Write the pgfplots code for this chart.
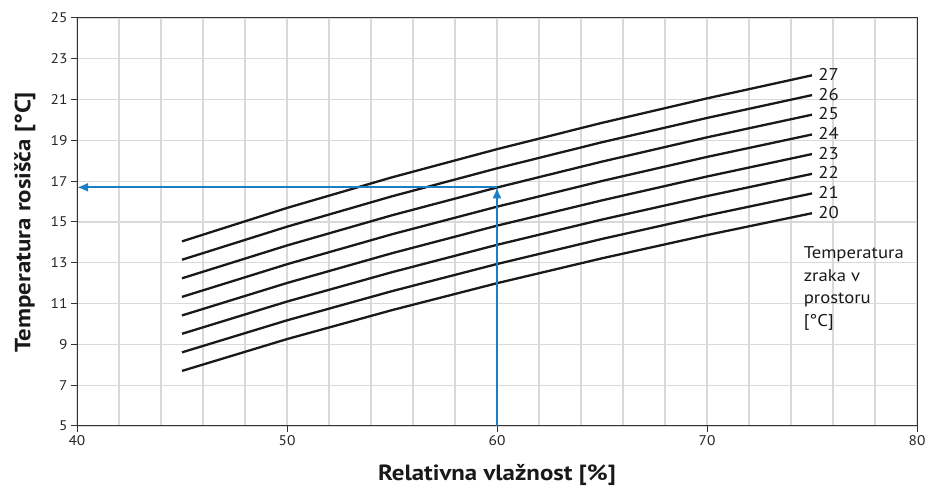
\documentclass[border=0pt]{standalone}
\usepackage{fontspec}
\setmainfont{PT Sans}[FakeStretch=1.1]
\newfontfamily\labelfont{PT Sans}[FakeStretch=1.13]
\usepackage{pgfplots}
\usepackage{pgfplotstable}
\pgfplotsset{compat=1.18}
\usetikzlibrary{arrows.meta}

\definecolor{gridgray}{HTML}{D9D9D9}
\definecolor{arrowblue}{HTML}{1B7FC7}
\definecolor{axisgray}{HTML}{333333}

% dew point [°C] vs. relative humidity [%], one column per room air temperature
\pgfplotstableread{
rh  t20   t21   t22   t23   t24   t25   t26   t27
45  7.70  8.61  9.52  10.42 11.33 12.24 13.15 14.05
50  9.26  10.18 11.10 12.01 12.93 13.85 14.77 15.69
55  10.68 11.61 12.54 13.47 14.40 15.33 16.26 17.19
60  12.00 12.94 13.88 14.82 15.75 16.69 17.63 18.57
65  13.22 14.17 15.12 16.06 17.01 17.96 18.91 19.86
70  14.36 15.32 16.27 17.23 18.19 19.15 20.10 21.06
75  15.43 16.40 17.36 18.33 19.29 20.26 21.22 22.19
}\dewtable

\begin{document}
\begin{tikzpicture}
\begin{axis}[
  name=ax,
  scale only axis,
  width=840pt, height=408pt,
  xmin=40, xmax=80, ymin=5, ymax=25,
  xtick={40,50,...,80},
  minor xtick={42,44,...,78},
  ytick={5,7,...,25},
  xmajorgrids, xminorgrids, ymajorgrids,
  grid style={gridgray, line width=1.2pt},
  minor grid style={gridgray, line width=1.2pt},
  axis line style={axisgray, line width=1pt},
  tick style={axisgray, line width=1pt},
  tick align=outside,
  major tick length=6pt,
  minor tick length=0pt,
  xtick pos=bottom, ytick pos=left,
  ticklabel style={font=\fontsize{14}{17}\selectfont, text=black!85},
  /pgf/number format/assume math mode=true,
  xlabel={Relativna vlažnost [\%]},
  ylabel={Temperatura rosišča [°C]},
  label style={font=\labelfont\fontsize{22}{26}\selectfont\bfseries, text=black!90},
  xlabel style={at={(axis description cs:0.5,-0.12)}, anchor=center},
  ylabel style={at={(axis description cs:-0.062,0.5)}, anchor=center},
  clip=false,
]
\pgfplotsinvokeforeach{20,...,27}{
  \addplot[black!90, line width=2.3pt] table[x=rh, y=t#1] {\dewtable}
    node[pos=1, anchor=west, xshift=2pt, yshift=1pt, font=\fontsize{17}{20}\selectfont, text=black!90] {#1};
}

% reading example: 60 % at 25 °C
\addplot[arrowblue, line width=2pt, -{Latex[length=11pt,width=9pt]}]
  coordinates {(60,5) (60,16.7)};
\addplot[arrowblue, line width=2pt, -{Latex[length=11pt,width=9pt]}]
  coordinates {(60,16.7) (40,16.7)};

\node[anchor=north west, align=left, inner sep=0pt,
      font=\fontsize{17}{22.5}\selectfont, text=black!90]
  at (axis cs:74.6,13.8) {Temperatura\\zraka v\\prostoru\\{[°C]}};
\end{axis}
\pgfresetboundingbox
\path ([shift={(-77pt,-60pt)}]ax.south west) rectangle ([shift={(10pt,18pt)}]ax.north east);
\end{tikzpicture}
\end{document}
